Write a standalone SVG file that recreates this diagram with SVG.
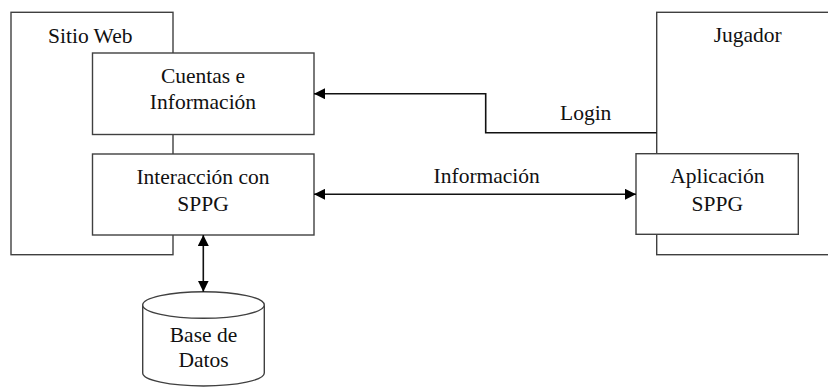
<svg xmlns="http://www.w3.org/2000/svg" width="828" height="387" viewBox="0 0 828 387">
<style>
.box{fill:#fff;stroke:#404040;stroke-width:1.4}
.ln{fill:none;stroke:#111;stroke-width:1.6}
.c{text-anchor:middle}
</style>
<defs>
<marker id="ah" viewBox="0 0 10 10" refX="10" refY="5" markerWidth="11" markerHeight="11" markerUnits="userSpaceOnUse" orient="auto-start-reverse">
<path d="M0,0 L10,5 L0,10 z" fill="#000"/>
</marker>
</defs>
<rect width="828" height="387" fill="#fff"/>
<g font-family="Liberation Serif, Times New Roman, serif" font-size="21.5" fill="#111">
<g id="sitio-web">
<rect class="box" x="11" y="12.3" width="162" height="242.4"/>
<text x="48" y="42.7">Sitio Web</text>
</g>
<g id="jugador">
<rect class="box" x="656.7" y="12.3" width="180" height="242.4"/>
<text class="c" x="747.7" y="42.3">Jugador</text>
</g>
<g id="cuentas">
<rect class="box" x="92.5" y="53" width="221.5" height="81.5"/>
<text class="c" x="203" y="82.7">Cuentas e</text>
<text class="c" x="203" y="109">Información</text>
</g>
<g id="interaccion">
<rect class="box" x="92.5" y="154" width="221.5" height="81"/>
<text class="c" x="203" y="184">Interacción con</text>
<text class="c" x="203" y="211">SPPG</text>
</g>
<g id="aplicacion">
<rect class="box" x="636" y="153.7" width="162.3" height="80.6"/>
<text class="c" x="717.3" y="182.7">Aplicación</text>
<text class="c" x="717.3" y="210.7">SPPG</text>
</g>
<g id="base-datos">
<path class="box" d="M142.7,305 L142.7,373 A60.8,13 0 0 0 264.3,373 L264.3,305"/>
<ellipse class="box" cx="203.5" cy="305" rx="60.8" ry="13.3"/>
<text class="c" x="203.5" y="341.7">Base de</text>
<text class="c" x="203.5" y="366.7">Datos</text>
</g>
<g id="connectors">
<polyline class="ln" points="656.7,132.7 485.7,132.7 485.7,93.7 314,93.7" marker-end="url(#ah)"/>
<text x="560" y="120">Login</text>
<line class="ln" x1="314" y1="194.3" x2="636" y2="194.3" marker-start="url(#ah)" marker-end="url(#ah)"/>
<text class="c" x="486.7" y="182.7">Información</text>
<line class="ln" x1="203.3" y1="235" x2="203.3" y2="291.7" marker-start="url(#ah)" marker-end="url(#ah)"/>
</g>
</g>
</svg>
